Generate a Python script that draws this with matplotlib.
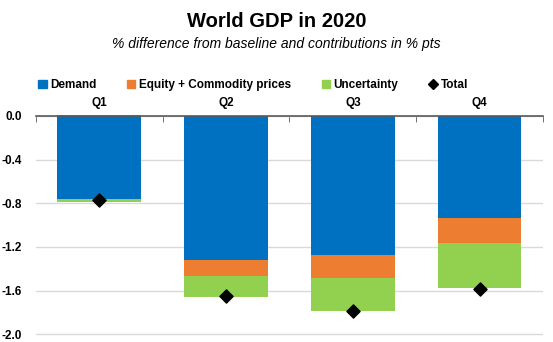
import matplotlib
matplotlib.use('Agg')
import matplotlib.pyplot as plt
import numpy as np
from matplotlib.lines import Line2D
from matplotlib.patches import Patch

matplotlib.rcParams['font.family'] = ['Liberation Sans', 'DejaVu Sans']

# data
quarters = ['Q1', 'Q2', 'Q3', 'Q4']
demand = [-0.76, -1.32, -1.27, -0.935]
equity = [0.01, -0.15, -0.21, -0.225]
uncertainty = [-0.03, -0.185, -0.31, -0.42]
total = [-0.77, -1.65, -1.79, -1.585]
yticks = [0.0, -0.4, -0.8, -1.2, -1.6, -2.0]

c_demand = '#0070C0'
c_equity = '#ED7D31'
c_unc = '#92D050'

fig = plt.figure(figsize=(5.53, 3.42), dpi=100)
ax = fig.add_axes([0.065, 0.016, 0.917, 0.645])

x = np.arange(len(quarters))
w = 0.66

# stack negatives downwards, positives upwards
neg = np.zeros(len(x))
pos = np.zeros(len(x))
for vals, col in [(demand, c_demand), (equity, c_equity), (uncertainty, c_unc)]:
    vals = np.array(vals)
    bottom = np.where(vals < 0, neg, pos)
    ax.bar(x, vals, w, bottom=bottom, color=col, zorder=2, clip_on=False)
    neg = neg + np.where(vals < 0, vals, 0)
    pos = pos + np.where(vals > 0, vals, 0)

ax.scatter(x, total, marker='D', s=45, color='black', zorder=4, clip_on=False)

ax.set_xlim(-0.5, len(x) - 0.5)
ax.set_ylim(-2.02, 0)
ax.set_yticks(yticks)
ax.set_yticklabels(['%.1f' % v for v in yticks], fontsize=8.5, fontweight='bold')
ax.yaxis.grid(True, color='#D9D9D9', lw=1, zorder=0)
ax.tick_params(axis='y', length=0, pad=10)

ax.xaxis.tick_top()
ax.set_xticks(x)
ax.set_xticklabels(quarters, fontsize=8.5, fontweight='bold')
ax.set_xticks(np.arange(len(x) + 1) - 0.5, minor=True)
ax.tick_params(axis='x', which='major', length=0, pad=5)
ax.tick_params(axis='x', which='minor', direction='in', length=4, color='#595959', top=True, bottom=False)

for s in ['left', 'right', 'bottom']:
    ax.spines[s].set_visible(False)
ax.spines['top'].set_color('#595959')
ax.spines['top'].set_linewidth(1.2)
ax.spines['top'].set_zorder(5)

handles = [Patch(color=c_demand), Patch(color=c_equity), Patch(color=c_unc),
           Line2D([], [], marker='D', color='black', ls='none', markersize=5)]
labels = ['Demand', 'Equity + Commodity prices', 'Uncertainty', 'Total']
fig.legend(handles, labels, loc='center left', bbox_to_anchor=(0.05, 0.752), ncol=4,
           frameon=False, handlelength=0.7, handleheight=0.7, handletextpad=0.3,
           columnspacing=2.6, prop={'size': 8.5, 'weight': 'bold'})

fig.text(0.5, 0.938, 'World GDP in 2020', ha='center', va='center', fontsize=14.5, fontweight='bold')
fig.text(0.5, 0.87, '% difference from baseline and contributions in % pts', ha='center', va='center',
         fontsize=10, style='italic')

fig.savefig('out.png', dpi=100)
